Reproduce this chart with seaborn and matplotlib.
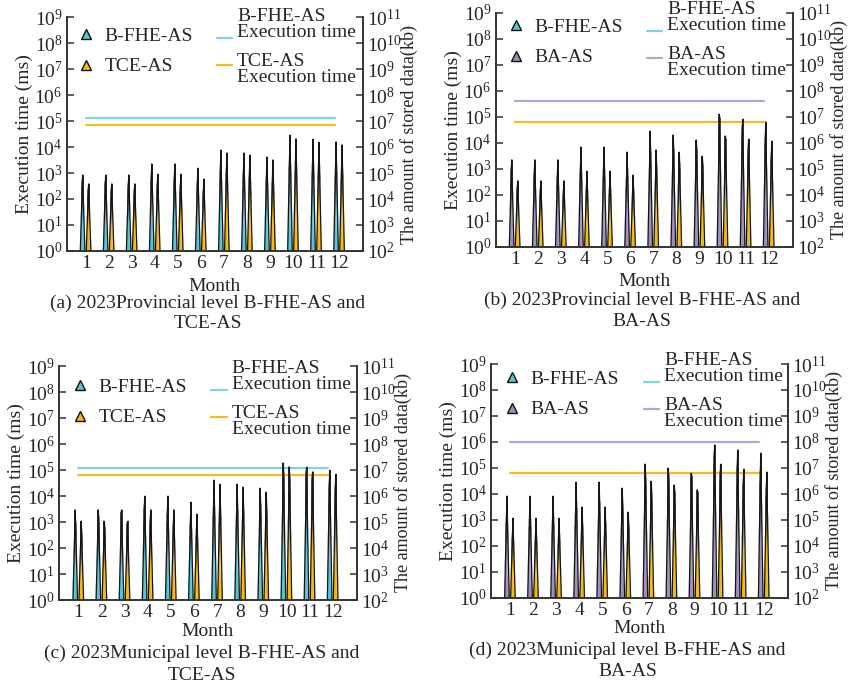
import numpy as np
import matplotlib
matplotlib.use("Agg")
import matplotlib.pyplot as plt
import seaborn as sns
from matplotlib.lines import Line2D
from matplotlib.colors import to_rgb
from matplotlib.ticker import NullLocator, LogFormatterSciNotation

# ---------------- data ----------------
months = list(range(1, 13))
month_labels = [str(m) for m in months]

# (a) 2023 Provincial level: B-FHE-AS vs TCE-AS
a_spike_first = [850, 850, 850, 2300, 2300, 1500, 7600, 6000, 4200, 29000, 20000, 16000]
a_spike_second = [390, 390, 390, 890, 890, 600, 6000, 4800, 3250, 21000, 15000, 12300]
a_line_first = 1.27e5
a_line_second = 6.8e4

# (b) 2023 Provincial level: B-FHE-AS vs BA-AS
b_spike_first = [2250, 2250, 2250, 6900, 6900, 4300, 27000, 20000, 13000, 123000, 79000, 63000]
b_spike_second = [350, 350, 350, 810, 810, 575, 5400, 4300, 2950, 18500, 13800, 11200]
b_line_first = 4.0e5
b_line_second = 6.5e4

# (c) 2023 Municipal level: B-FHE-AS vs TCE-AS
c_spike_first = [3000, 3000, 3000, 9700, 9700, 5700, 40000, 29000, 19500, 190000, 126000, 97000]
c_spike_second = [1090, 1090, 1090, 3000, 3000, 1950, 29000, 22000, 13800, 134000, 87000, 69000]
c_line_first = 1.23e5
c_line_second = 6.3e4

# (d) 2023 Municipal level: B-FHE-AS vs BA-AS
d_spike_first = [8100, 8100, 8100, 28000, 28000, 16700, 138000, 100000, 63000, 780000, 500000, 370000]
d_spike_second = [1130, 1130, 1130, 3150, 3150, 1990, 30000, 22500, 14500, 135000, 91000, 70000]
d_line_first = 1.0e6
d_line_second = 6.4e4

captions = [
    ("(a) 2023Provincial level B-FHE-AS and", "TCE-AS"),
    ("(b) 2023Provincial level B-FHE-AS and", "BA-AS"),
    ("(c) 2023Municipal level B-FHE-AS and", "TCE-AS"),
    ("(d) 2023Municipal level B-FHE-AS and", "BA-AS"),
]
marker_legend_labels = [["B-FHE-AS", "TCE-AS"], ["B-FHE-AS", "BA-AS"],
                        ["B-FHE-AS", "TCE-AS"], ["B-FHE-AS", "BA-AS"]]
line_legend_labels = [["B-FHE-AS\nExecution time", "TCE-AS\nExecution time"],
                      ["B-FHE-AS\nExecution time", "BA-AS\nExecution time"],
                      ["B-FHE-AS\nExecution time", "TCE-AS\nExecution time"],
                      ["B-FHE-AS\nExecution time", "BA-AS\nExecution time"]]

# ---------------- style ----------------
CYAN = "#55C3D2"
YELLOW = "#F6B80C"
PURPLE = "#9D8EBE"
CYAN_L = "#7FD4E2"
YELLOW_L = "#F5BD1F"
PURPLE_L = "#B3A7CE"

sns.set_style("ticks")
plt.rcParams["font.family"] = ["Liberation Serif", "DejaVu Serif"]
plt.rcParams["mathtext.fontset"] = "custom"
plt.rcParams["mathtext.rm"] = "Liberation Serif"
plt.rcParams["mathtext.it"] = "Liberation Serif:italic"
FS = 14
PT2PX = 100 / 72

W, H = 849, 687
fig = plt.figure(figsize=(W / 100, H / 100), dpi=100)


def px2fig(x, y):
    return x / W, 1 - y / H


# axes rectangles in pixels: left, top, right, bottom
rects = [(66.7, 17, 363, 251), (495.7, 12.7, 792.7, 246.7),
         (59.3, 366, 356.7, 600), (491, 364, 787.7, 597.7)]
cap_pos = [((207.5, 303), (208, 324)), ((641.7, 300), (641.7, 322)),
           ((201.7, 653), (201.7, 675)), ((627.5, 650), (628, 672))]
xlabel_pad = [4.0, 3.5, 1.5, 1.0]
# left legend: marker x, first row y ; right legend: text x, first line y
mleg_pos = [(86, 37), (515.7, 28), (80, 388), (512.3, 380)]
lleg_pos = [(237, 17), (667.3, 10), (231.7, 369), (664.3, 361)]

panels = [
    dict(first=a_spike_first, second=a_spike_second, c1=CYAN, c2=YELLOW,
         lines=[(a_line_first, CYAN_L), (a_line_second, YELLOW_L)],
         mcols=[CYAN, YELLOW], lcols=[CYAN_L, YELLOW_L]),
    dict(first=b_spike_first, second=b_spike_second, c1=PURPLE, c2=YELLOW,
         lines=[(b_line_first, PURPLE_L), (b_line_second, YELLOW_L)],
         mcols=[CYAN, PURPLE], lcols=[CYAN_L, PURPLE_L]),
    dict(first=c_spike_first, second=c_spike_second, c1=CYAN, c2=YELLOW,
         lines=[(c_line_first, CYAN_L), (c_line_second, YELLOW_L)],
         mcols=[CYAN, YELLOW], lcols=[CYAN_L, YELLOW_L]),
    dict(first=d_spike_first, second=d_spike_second, c1=PURPLE, c2=YELLOW,
         lines=[(d_line_first, PURPLE_L), (d_line_second, YELLOW_L)],
         mcols=[CYAN, PURPLE], lcols=[CYAN_L, PURPLE_L]),
]

OFF1, OFF2, HW = -0.14, 0.12, 0.1
LINE_X = [1, 11.8]


def spike(ax, xc, peak, color, hw=HW, nv=40, nu=8):
    v = np.linspace(0, 1, nv + 1)
    u = np.linspace(0, 1, nu + 1)
    V, U = np.meshgrid(v, u, indexing="ij")
    Y = np.power(float(peak), V)
    X = xc + hw * (1 - V) * (2 * U - 1)
    vc = (v[:-1] + v[1:]) / 2
    uc = (u[:-1] + u[1:]) / 2
    VC, UC = np.meshgrid(vc, uc, indexing="ij")
    t = np.clip((VC - 0.3) / 0.5, 0, 1)
    t = t * t * (3 - 2 * t)
    base = np.array(to_rgb(color))
    rgb = base[None, None, :] * (1 - t[..., None]) + 0.08 * t[..., None]
    hl = 0.45 * np.exp(-((UC - 0.8) / 0.14) ** 2) * np.sin(np.pi * np.clip(VC / 0.85, 0, 1))
    rgb = rgb * (1 - hl[..., None]) + hl[..., None]
    C = np.dstack([np.clip(rgb, 0, 1), np.ones_like(t)])
    ax.pcolormesh(X, Y, C, shading="flat", edgecolors="face", linewidth=0.2,
                  antialiased=True, zorder=3)
    ax.fill([xc - hw, xc, xc + hw], [1, peak, 1], fc="none", ec="#151515",
            lw=0.9, zorder=4, joinstyle="miter")


for i, p in enumerate(panels):
    l, t, r, b = rects[i]
    x0, y1 = px2fig(l, t)
    x1, y0 = px2fig(r, b)
    ax = fig.add_axes([x0, y0, x1 - x0, y1 - y0])
    ax.set_yscale("log")
    ax.set_ylim(1, 1e9)
    ax.set_xlim(0.17, 13.03)

    for val, col in p["lines"]:
        sns.lineplot(x=LINE_X, y=[val, val], ax=ax, color=col, lw=1.6,
                     legend=False, zorder=2)

    for m, v1, v2 in zip(months, p["first"], p["second"]):
        spike(ax, m + OFF1, v1, p["c1"])
        spike(ax, m + OFF2, v2, p["c2"])

    ax.set_xticks(months, month_labels)
    ax.set_yticks([10.0 ** k for k in range(10)])
    ax.yaxis.set_minor_locator(NullLocator())
    ax.yaxis.set_major_formatter(LogFormatterSciNotation())
    ax.tick_params(axis="x", length=0, pad=3, labelsize=FS)
    ax.tick_params(axis="y", direction="in", length=5, width=1.1, pad=3,
                   labelsize=FS, color="#333333")
    for s in ["left", "bottom", "right"]:
        ax.spines[s].set_linewidth(1.2)
        ax.spines[s].set_color("#333333")
    ax.spines["top"].set_visible(False)
    ax.set_xlabel("Month", fontsize=FS, labelpad=xlabel_pad[i])
    ax.set_ylabel("Execution time (ms)", fontsize=FS, labelpad=1)

    ax2 = ax.twinx()
    ax2.set_yscale("log")
    ax2.set_ylim(1e2, 1e11)
    ax2.set_yticks([10.0 ** k for k in range(2, 12)])
    ax2.yaxis.set_minor_locator(NullLocator())
    ax2.yaxis.set_major_formatter(LogFormatterSciNotation())
    ax2.tick_params(axis="y", direction="in", length=5, width=1.1, pad=3,
                    labelsize=FS, color="#333333")
    for s in ["left", "bottom", "right"]:
        ax2.spines[s].set_linewidth(1.2)
        ax2.spines[s].set_color("#333333")
    ax2.spines["top"].set_visible(False)
    ax2.set_ylabel("The amount of stored data(kb)", fontsize=13, labelpad=-1)

    # marker legend
    hl = 0.8
    mh = [Line2D([], [], marker="^", ls="none", mfc=c, mec="#111111", ms=7.5, mew=1.0)
          for c in p["mcols"]]
    mx, my = mleg_pos[i]
    ax_, ay_ = px2fig(mx - hl * FS * PT2PX / 2, my - 10)
    leg1 = ax2.legend(mh, marker_legend_labels[i], loc="upper left",
                      bbox_to_anchor=(ax_, ay_), bbox_transform=fig.transFigure,
                      frameon=False, fontsize=FS, handlelength=hl,
                      handletextpad=0.55, labelspacing=0.68, borderpad=0,
                      borderaxespad=0)
    ax2.add_artist(leg1)

    # line legend
    lh = [Line2D([], [], color=c, lw=1.6) for c in p["lcols"]]
    tx, ty = lleg_pos[i]
    hl2, htp = 0.78, 0.26
    bx, by = px2fig(tx - (hl2 + htp) * FS * PT2PX, ty - 9)
    leg2 = ax2.legend(lh, line_legend_labels[i], loc="upper left",
                      bbox_to_anchor=(bx, by), bbox_transform=fig.transFigure,
                      frameon=False, fontsize=FS, handlelength=hl2,
                      handletextpad=htp, labelspacing=0.6, borderpad=0,
                      borderaxespad=0)
    for txt in leg2.get_texts():
        txt.set_linespacing(0.92)
    # handle placement beside the label lines as in the original
    h0 = leg2.legend_handles[0]
    h0.set_ydata(np.asarray(h0.get_ydata(), dtype=float) - 10)
    h1 = leg2.legend_handles[1]
    h1.set_ydata(np.asarray(h1.get_ydata(), dtype=float) + 3)

    # caption
    for (cx, cy), line in zip(cap_pos[i], captions[i]):
        fx, fy = px2fig(cx, cy)
        fig.text(fx, fy, line, ha="center", va="center", fontsize=FS)

fig.savefig("out.png", dpi=100)
